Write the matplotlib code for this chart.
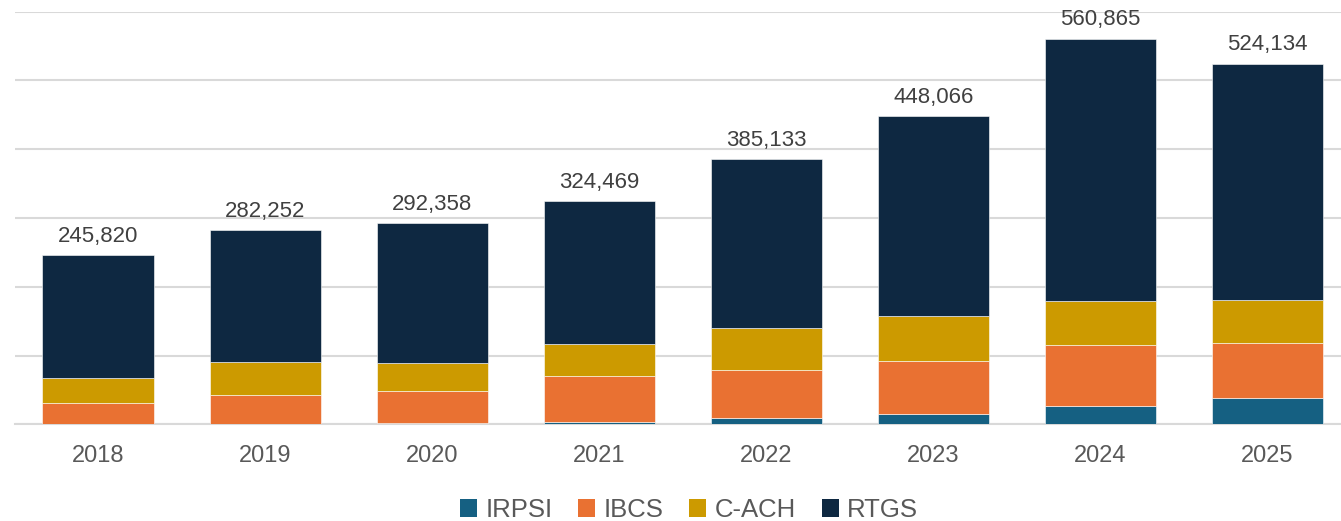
import matplotlib
matplotlib.use("Agg")
import matplotlib.pyplot as plt
import numpy as np
from matplotlib.patches import Patch

years = ["2018", "2019", "2020", "2021", "2022", "2023", "2024", "2025"]
irpsi = [0, 300, 2000, 3500, 9200, 14500, 27000, 37800]
ibcs = [30500, 41900, 46400, 66300, 69800, 77500, 87900, 80000]
cach = [36400, 48000, 40300, 46500, 61500, 65000, 63900, 62900]
rtgs = [178920, 192052, 203658, 208169, 244633, 291066, 382065, 343434]
totals = [245820, 282252, 292358, 324469, 385133, 448066, 560865, 524134]

series_names = ["IRPSI", "IBCS", "C-ACH", "RTGS"]
colors = ["#156082", "#E97132", "#CC9A00", "#0E2841"]

plt.rcParams['font.family'] = ['Liberation Sans', 'DejaVu Sans']

W, H = 1341, 521
fig = plt.figure(figsize=(W / 100, H / 100), dpi=100)
left = 14.5 / W
right = 1351 / W
bottom = (H - 424.3) / H
top = (H - 11.7) / H
ax = fig.add_axes([left, bottom, right - left, top - bottom])

x = np.arange(len(years))
width = 0.665
base = np.zeros(len(years))
for vals, name, c in zip([irpsi, ibcs, cach, rtgs], series_names, colors):
    v = np.array(vals, dtype=float)
    ax.bar(x, v, width, bottom=base, color=c, edgecolor="#ffffff", linewidth=0.4, zorder=3, label=name)
    base += v

for xi, t in zip(x, totals):
    ax.text(xi, t + 12500, f"{t:,}", ha="center", va="bottom", fontsize=16, color="#404040")

ax.set_xlim(-0.5, len(years) - 0.5)
ax.set_ylim(0, 600000)
ax.set_yticks(np.arange(0, 600001, 100000))
ax.yaxis.grid(True, color="#d9d9d9", linewidth=1.5, zorder=0)
ax.set_axisbelow(True)
ax.tick_params(axis="y", left=False, labelleft=False)
ax.set_xticks(x)
ax.set_xticklabels(years, fontsize=17, color="#595959")
ax.tick_params(axis="x", length=0, pad=15)
for s in ["top", "right", "left"]:
    ax.spines[s].set_visible(False)
ax.spines["bottom"].set_color("#d9d9d9")
ax.spines["bottom"].set_linewidth(1.5)

handles = [Patch(facecolor=c, label=n) for c, n in zip(colors, series_names)]
fig.legend(handles=handles, loc="center", bbox_to_anchor=(689 / W, (H - 510) / H),
           ncol=4, frameon=False, fontsize=18.5, labelcolor="#595959",
           handlelength=0.66, handleheight=0.66, handletextpad=0.31, columnspacing=1.02,
           borderpad=0, borderaxespad=0)

fig.savefig("out.png", dpi=100)
